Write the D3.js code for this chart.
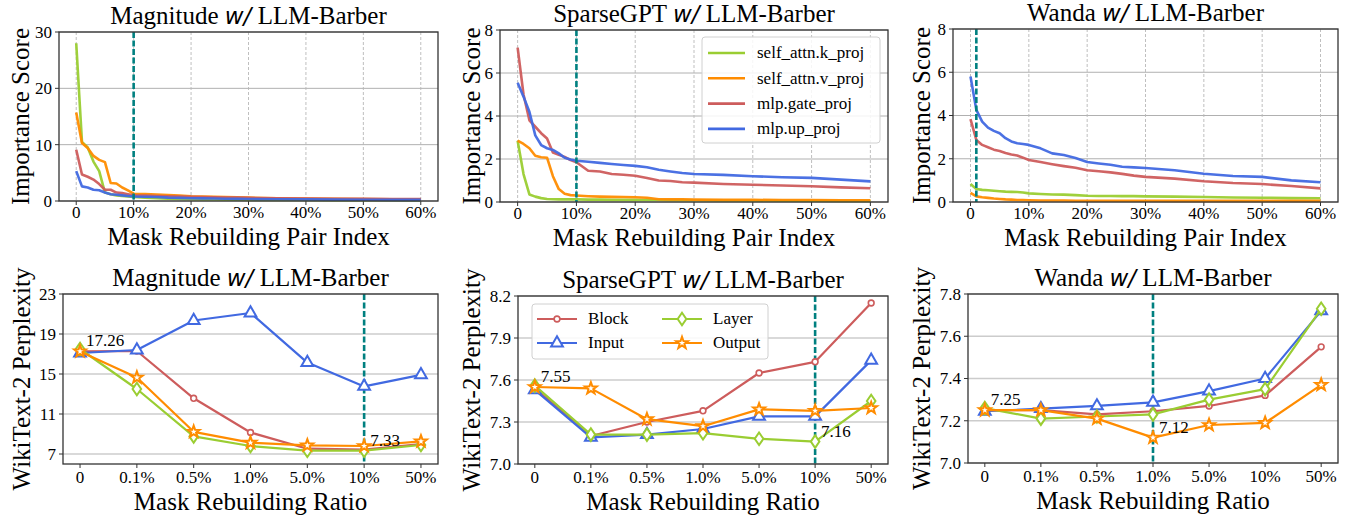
<!DOCTYPE html>
<html><head><meta charset="utf-8">
<script src="https://cdn.jsdelivr.net/npm/d3@7"></script>
<style>
body{margin:0;background:#fff}
svg{display:block}
text{font-family:"Liberation Serif","Times New Roman",serif;fill:#000}
</style>
</head><body>
<svg id="c" width="1353" height="516"></svg>
<script>
// ---------------- DATA ----------------
const pairIndex = [0,1,2,3,4,5,6,7,8,9,10,12,14,16,18,20,22,24,26,28,30,35,40,45,50,55,60];
const pairTicks = [0,10,20,30,40,50,60];
const pairTickLabels = ["0","10%","20%","30%","40%","50%","60%"];
const layerNames = ["self_attn.k_proj","self_attn.v_proj","mlp.gate_proj","mlp.up_proj"];

// Magnitude importance scores
const magK    = [28.0,10.5,9.5,7.0,5.3,1.5,1.2,1.0,0.9,0.8,0.7,0.6,0.5,0.4,0.35,0.3,0.28,0.26,0.24,0.22,0.2,0.2,0.18,0.15,0.15,0.12,0.1];
const magV    = [15.7,10.3,9.4,8.0,7.3,6.9,3.2,3.1,2.4,1.9,1.3,1.25,1.15,1.05,0.95,0.85,0.8,0.75,0.7,0.65,0.6,0.5,0.45,0.4,0.35,0.32,0.3];
const magGate = [9.1,4.7,4.3,3.8,3.0,2.0,2.0,1.5,1.4,1.2,1.0,0.95,0.9,0.85,0.8,0.75,0.7,0.65,0.62,0.6,0.55,0.5,0.45,0.4,0.38,0.35,0.33];
const magUp   = [5.3,2.6,2.4,2.0,1.9,1.5,1.2,1.1,1.0,0.9,0.8,0.75,0.7,0.6,0.55,0.5,0.47,0.44,0.41,0.38,0.35,0.3,0.28,0.25,0.23,0.2,0.2];
// SparseGPT importance scores
const sgK     = [2.85,1.3,0.35,0.25,0.18,0.14,0.13,0.12,0.12,0.12,0.12,0.11,0.11,0.1,0.1,0.1,0.09,0.09,0.08,0.08,0.08,0.07,0.07,0.06,0.06,0.05,0.05];
const sgV     = [2.85,2.7,2.5,2.15,2.08,2.06,1.2,0.6,0.38,0.32,0.3,0.27,0.25,0.24,0.23,0.22,0.2,0.13,0.12,0.12,0.11,0.1,0.1,0.09,0.09,0.08,0.08];
const sgGate  = [7.18,5.0,3.8,3.5,3.2,2.95,2.3,2.2,2.1,1.95,1.85,1.45,1.42,1.3,1.27,1.22,1.12,1.0,0.98,0.92,0.9,0.84,0.8,0.77,0.73,0.68,0.64];
const sgUp    = [5.55,4.9,4.2,3.1,2.65,2.5,2.42,2.26,2.06,1.98,1.92,1.87,1.82,1.77,1.72,1.68,1.62,1.5,1.42,1.35,1.3,1.26,1.2,1.15,1.12,1.04,0.96];
// Wanda importance scores
const wdK     = [0.83,0.6,0.56,0.54,0.52,0.5,0.48,0.47,0.46,0.44,0.4,0.37,0.35,0.34,0.32,0.29,0.28,0.28,0.27,0.27,0.26,0.25,0.23,0.21,0.2,0.18,0.17];
const wdV     = [0.42,0.26,0.22,0.19,0.16,0.14,0.12,0.11,0.09,0.09,0.08,0.07,0.07,0.07,0.06,0.06,0.06,0.06,0.06,0.06,0.06,0.05,0.05,0.05,0.05,0.05,0.05];
const wdGate  = [3.83,2.87,2.64,2.53,2.42,2.36,2.27,2.2,2.15,2.05,1.94,1.85,1.75,1.66,1.58,1.47,1.42,1.37,1.3,1.22,1.16,1.08,0.96,0.88,0.83,0.74,0.63];
const wdUp    = [5.8,4.26,3.72,3.44,3.29,3.18,2.95,2.8,2.72,2.68,2.64,2.48,2.25,2.17,2.03,1.85,1.78,1.72,1.63,1.6,1.57,1.47,1.31,1.2,1.16,1.0,0.91];

const ratioLabels = ["0","0.1%","0.5%","1.0%","5.0%","10%","50%"];
const granularityNames = ["Block","Input","Layer","Output"];
// Magnitude perplexity
const magBlock  = [17.26,17.3,12.57,9.15,7.53,7.43,8.0];
const magInput  = [17.1,17.4,20.35,21.1,16.14,13.76,14.92];
const magLayer  = [17.5,13.5,8.76,7.8,7.33,7.33,7.9];
const magOutput = [17.26,14.65,9.22,8.13,7.86,7.8,8.26];
// SparseGPT perplexity
const sgBlock   = [7.54,7.2,7.30,7.38,7.65,7.73,8.15];
const sgInput   = [7.53,7.19,7.21,7.25,7.34,7.34,7.74];
const sgLayer   = [7.56,7.21,7.21,7.22,7.18,7.16,7.45];
const sgOutput  = [7.55,7.54,7.32,7.27,7.39,7.38,7.40];
// Wanda perplexity
const wdBlock   = [7.25,7.25,7.23,7.245,7.27,7.32,7.55];
const wdInput   = [7.245,7.257,7.27,7.287,7.34,7.40,7.72];
const wdLayer   = [7.26,7.21,7.22,7.23,7.30,7.35,7.73];
const wdOutput  = [7.25,7.25,7.21,7.12,7.18,7.19,7.37];

const magTicks = [7,11,15,19,23];
const sgTicks  = [7.0,7.3,7.6,7.9,8.2];
const wdTicks  = [7.0,7.2,7.4,7.6,7.8];

// ---------------- STYLE ----------------
const colors = ["#9acd32","#ff8c00","#cd5c5c","#4169e1"];
const perpColors = ["#cd5c5c","#4169e1","#9acd32","#ff8c00"];
const svg = d3.select("#c");

function title(g, cx, y, method){
  const t = g.append("text").attr("x",cx).attr("y",y).attr("text-anchor","middle").style("font-size","25px");
  t.append("tspan").text(method+" ");
  t.append("tspan").text("w/").style("font-family","DejaVu Sans").style("font-style","italic").style("font-size","23px");
  t.append("tspan").text(" LLM-Barber");
}

function frame(box, x, y, yTicks, yFmt, xTicksPos, xTickLabels, xlab, ylab, method, ylabX, vgrid, gridColor, tickOff, labOff){
  const g = svg.append("g");
  g.selectAll(null).data(yTicks).enter().append("line")
    .attr("x1",box.x0).attr("x2",box.x1).attr("y1",d=>y(d)).attr("y2",d=>y(d))
    .attr("stroke",gridColor).attr("stroke-width",vgrid?1:1.3);
  if(vgrid){
    g.selectAll(null).data(xTicksPos).enter().append("line")
      .attr("x1",d=>x(d)).attr("x2",d=>x(d)).attr("y1",box.y0).attr("y2",box.y1)
      .attr("stroke","#b8b8b8").attr("stroke-width",0.9).attr("stroke-dasharray","3,2");
  }
  g.selectAll(null).data(yTicks).enter().append("line")
    .attr("x1",box.x0-4).attr("x2",box.x0).attr("y1",d=>y(d)).attr("y2",d=>y(d)).attr("stroke","#333").attr("stroke-width",1);
  g.selectAll(null).data(yTicks).enter().append("text")
    .attr("x",box.x0-7).attr("y",d=>y(d)).attr("dy","0.35em").attr("text-anchor","end")
    .style("font-size","17px").text(yFmt);
  g.selectAll(null).data(xTicksPos).enter().append("line")
    .attr("x1",d=>x(d)).attr("x2",d=>x(d)).attr("y1",box.y1).attr("y2",box.y1+4).attr("stroke","#333").attr("stroke-width",1);
  g.selectAll(null).data(xTicksPos).enter().append("text")
    .attr("x",d=>x(d)).attr("y",box.y1+tickOff).attr("text-anchor","middle")
    .style("font-size","17px").text((d,i)=>xTickLabels[i]);
  g.append("text").attr("x",(box.x0+box.x1)/2).attr("y",box.y1+labOff).attr("text-anchor","middle").style("font-size","25px").text(xlab);
  g.append("text").attr("transform",`translate(${ylabX},${(box.y0+box.y1)/2}) rotate(-90)`).attr("dy","0.35em")
    .attr("text-anchor","middle").style("font-size","25px").text(ylab);
  title(g,(box.x0+box.x1)/2,box.y0-8,method);
  return g;
}

function spines(box){
  svg.append("rect").attr("x",box.x0).attr("y",box.y0).attr("width",box.x1-box.x0).attr("height",box.y1-box.y0)
    .attr("fill","none").attr("stroke","#333").attr("stroke-width",1.3);
}

function vref(box, xp){
  svg.append("line").attr("x1",xp).attr("x2",xp).attr("y1",box.y0).attr("y2",box.y1)
    .attr("stroke","#008080").attr("stroke-width",2.6).attr("stroke-dasharray","6,2.5");
}

// ---------------- TOP ROW ----------------
const topPanels = [
  {method:"Magnitude", box:{x0:59,x1:438,y0:32,y1:201}, ymax:30, ticks:[0,10,20,30], series:[magK,magV,magGate,magUp], ref:10, ylabX:20},
  {method:"SparseGPT", box:{x0:500,x1:888,y0:30,y1:202}, ymax:8, ticks:[0,2,4,6,8], series:[sgK,sgV,sgGate,sgUp], ref:10, ylabX:471, legend:true},
  {method:"Wanda", box:{x0:953,x1:1338,y0:29,y1:202}, ymax:8, ticks:[0,2,4,6,8], series:[wdK,wdV,wdGate,wdUp], ref:1, ylabX:921}
];
topPanels.forEach(p=>{
  const b = p.box;
  const x = d3.scaleLinear().domain([-3,63]).range([b.x0,b.x1]);
  const y = d3.scaleLinear().domain([0,p.ymax]).range([b.y1,b.y0]);
  frame(b,x,y,p.ticks,d=>d3.format("d")(d),pairTicks,pairTickLabels,"Mask Rebuilding Pair Index","Importance Score",p.method,p.ylabX,true,"#b0b0b0",17,44);
  const line = d3.line().x((d,i)=>x(pairIndex[i])).y(d=>y(d));
  p.series.forEach((s,k)=>{
    svg.append("path").attr("d",line(s)).attr("fill","none").attr("stroke",colors[k])
      .attr("stroke-width",2.6).attr("stroke-linejoin","round").attr("opacity",0.95);
  });
  vref(b,x(p.ref));
  spines(b);
  if(p.legend){
    const lg = svg.append("g");
    lg.append("rect").attr("x",702).attr("y",37).attr("width",178).attr("height",106).attr("rx",3)
      .attr("fill","#fff").attr("fill-opacity",0.85).attr("stroke","#d0d0d0");
    layerNames.forEach((n,k)=>{
      const yy = 53 + k*25.3;
      lg.append("line").attr("x1",708).attr("x2",745).attr("y1",yy).attr("y2",yy).attr("stroke",colors[k]).attr("stroke-width",2.6);
      lg.append("text").attr("x",757).attr("y",yy).attr("dy","0.32em").style("font-size","17px").text(n);
    });
  }
});

// ---------------- BOTTOM ROW ----------------
function marker(kind){
  if(kind===0) return d3.symbol().type(d3.symbolCircle).size(26)();
  if(kind===1){ const r=6.8; return `M0,${-r}L${r*0.866},${r/2}L${-r*0.866},${r/2}Z`; }
  if(kind===2) return "M0,-6.3L4.3,0L0,6.3L-4.3,0Z";
  const pts=[]; for(let i=0;i<10;i++){const r=i%2?2.5:6.2;const a=-Math.PI/2+i*Math.PI/5;pts.push([r*Math.cos(a),r*Math.sin(a)]);}
  return "M"+pts.map(p=>p.join(",")).join("L")+"Z";
}

const botPanels = [
  {method:"Magnitude", box:{x0:63,x1:438,y0:294,y1:464}, ydom:[6,23], ticks:magTicks, fmt:d3.format("d"), series:[magBlock,magInput,magLayer,magOutput], ref:5, ylabX:21,
   notes:[[0,17.26,"17.26"],[5,7.33,"7.33"]]},
  {method:"SparseGPT", box:{x0:518,x1:888,y0:296,y1:464}, ydom:[7.0,8.2], ticks:sgTicks, fmt:d3.format(".1f"), series:[sgBlock,sgInput,sgLayer,sgOutput], ref:5, ylabX:471, legend:true,
   notes:[[0,7.55,"7.55"],[5,7.16,"7.16"]]},
  {method:"Wanda", box:{x0:968,x1:1338,y0:294,y1:463}, ydom:[7.0,7.8], ticks:wdTicks, fmt:d3.format(".1f"), series:[wdBlock,wdInput,wdLayer,wdOutput], ref:3, ylabX:921,
   notes:[[0,7.25,"7.25"],[3,7.12,"7.12"]]}
];
botPanels.forEach(p=>{
  const b = p.box;
  const x = d3.scaleLinear().domain([-0.3,6.3]).range([b.x0,b.x1]);
  const y = d3.scaleLinear().domain(p.ydom).range([b.y1,b.y0]);
  frame(b,x,y,p.ticks,p.fmt,d3.range(ratioLabels.length),ratioLabels,"Mask Rebuilding Ratio","WikiText-2 Perplexity",p.method,p.ylabX,false,"#cccccc",19,46);
  vref(b,x(p.ref));
  const line = d3.line().x((d,i)=>x(i)).y(d=>y(d));
  p.series.forEach((s,k)=>{
    svg.append("path").attr("d",line(s)).attr("fill","none").attr("stroke",perpColors[k]).attr("stroke-width",2.2).attr("stroke-linejoin","round");
    svg.selectAll(null).data(s).enter().append("path").attr("d",marker(k))
      .attr("transform",(d,i)=>`translate(${x(i)},${y(d)})`)
      .attr("fill","#fff").attr("stroke",perpColors[k]).attr("stroke-width",k===0?1.6:2);
  });
  p.notes.forEach(n=>{
    svg.append("text").attr("x",x(n[0])+6).attr("y",y(n[1])-5).style("font-size","17px").text(n[2]);
  });
  spines(b);
  if(p.legend){
    const lg = svg.append("g");
    lg.append("rect").attr("x",532).attr("y",304).attr("width",236).attr("height",55).attr("rx",3)
      .attr("fill","#fff").attr("fill-opacity",0.85).attr("stroke","#d0d0d0");
    granularityNames.forEach((n,k)=>{
      const col = Math.floor(k/2), row = k%2;
      const lx = 537 + col*125, yy = 319 + row*24;
      lg.append("line").attr("x1",lx).attr("x2",lx+40).attr("y1",yy).attr("y2",yy).attr("stroke",perpColors[k]).attr("stroke-width",2.2);
      lg.append("path").attr("d",marker(k)).attr("transform",`translate(${lx+20},${yy})`)
        .attr("fill","#fff").attr("stroke",perpColors[k]).attr("stroke-width",k===0?1.6:2);
      lg.append("text").attr("x",lx+51).attr("y",yy).attr("dy","0.32em").style("font-size","17px").text(n);
    });
  }
});
</script>
</body></html>
